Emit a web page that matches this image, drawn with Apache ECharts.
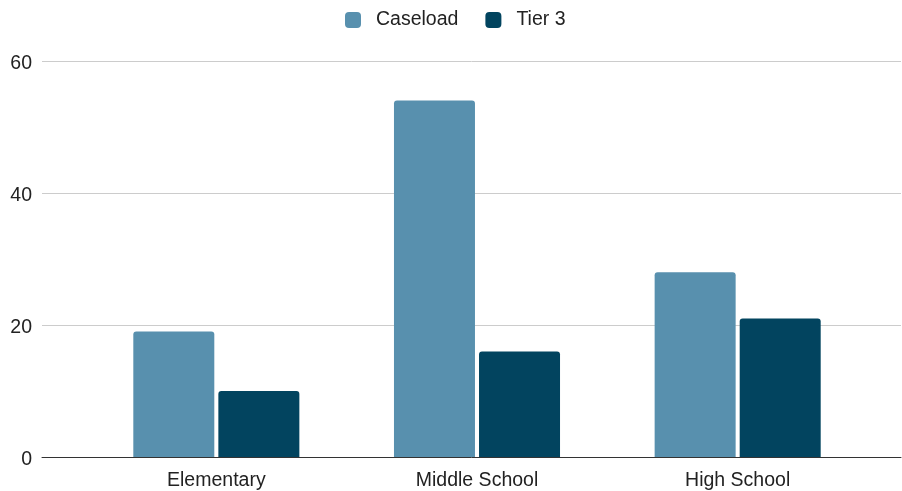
<!DOCTYPE html>
<html>
<head>
<meta charset="utf-8">
<script src="https://cdn.jsdelivr.net/npm/echarts@6/dist/echarts.min.js"></script>
<style>
  html, body { margin: 0; padding: 0; background: #fff; }
  #chart { width: 902px; height: 491px; }
</style>
</head>
<body>
<div id="chart"></div>
<script>
const categories = ['Elementary', 'Middle School', 'High School'];
const caseload = [19, 54, 28];
const tier3 = [10, 16, 21];
const yTicks = [0, 20, 40, 60];

const FONT = '"Liberation Sans", Arial, sans-serif';
const FS = 19.5;
const chart = echarts.init(document.getElementById('chart'), null, { renderer: 'canvas' });

chart.setOption({
  animation: false,
  textStyle: { fontFamily: FONT },
  legend: {
    top: 10,
    left: 345,
    padding: 0,
    itemWidth: 16,
    itemHeight: 16,
    itemGap: 27,
    icon: 'roundRect',
    textStyle: { fontSize: FS, color: '#222', fontFamily: FONT, padding: [0, 0, 0, 10] },
    data: ['Caseload', 'Tier 3']
  },
  grid: [
    // bar area
    { left: 86, right: 34, top: 61, bottom: 34 },
    // full-width frame for gridlines and baseline
    { left: 42, right: 1, top: 61, bottom: 34 }
  ],
  xAxis: [
    {
      gridIndex: 0,
      type: 'category',
      data: categories,
      axisLine: { show: false },
      axisTick: { show: false },
      axisLabel: { fontSize: FS, color: '#222', margin: 14, fontFamily: FONT }
    },
    {
      gridIndex: 1,
      type: 'value',
      min: 0, max: 1,
      axisLine: { show: true, lineStyle: { color: '#333', width: 1 } },
      axisTick: { show: false },
      axisLabel: { show: false },
      splitLine: { show: false }
    }
  ],
  yAxis: [
    {
      gridIndex: 0,
      type: 'value',
      min: yTicks[0], max: yTicks[yTicks.length - 1], interval: 20,
      show: false
    },
    {
      gridIndex: 1,
      type: 'value',
      min: yTicks[0], max: yTicks[yTicks.length - 1], interval: 20,
      axisLine: { show: false },
      axisTick: { show: false },
      axisLabel: {
        margin: 10,
        formatter: '{t|{value}}',
        rich: { t: { fontSize: FS, color: '#222', fontFamily: FONT, padding: [5, 0, 0, 0] } }
      },
      splitLine: { show: true, lineStyle: { color: '#cccccc', width: 1 } }
    }
  ],
  series: [
    {
      name: 'Caseload',
      type: 'bar',
      xAxisIndex: 0, yAxisIndex: 0,
      data: caseload,
      barWidth: 81,
      barGap: '5%',
      itemStyle: { color: '#5890ae', borderRadius: [3, 3, 0, 0] }
    },
    {
      name: 'Tier 3',
      type: 'bar',
      xAxisIndex: 0, yAxisIndex: 0,
      data: tier3,
      barWidth: 81,
      barGap: '5%',
      itemStyle: { color: '#02445f', borderRadius: [3, 3, 0, 0] }
    }
  ]
});
</script>
</body>
</html>
